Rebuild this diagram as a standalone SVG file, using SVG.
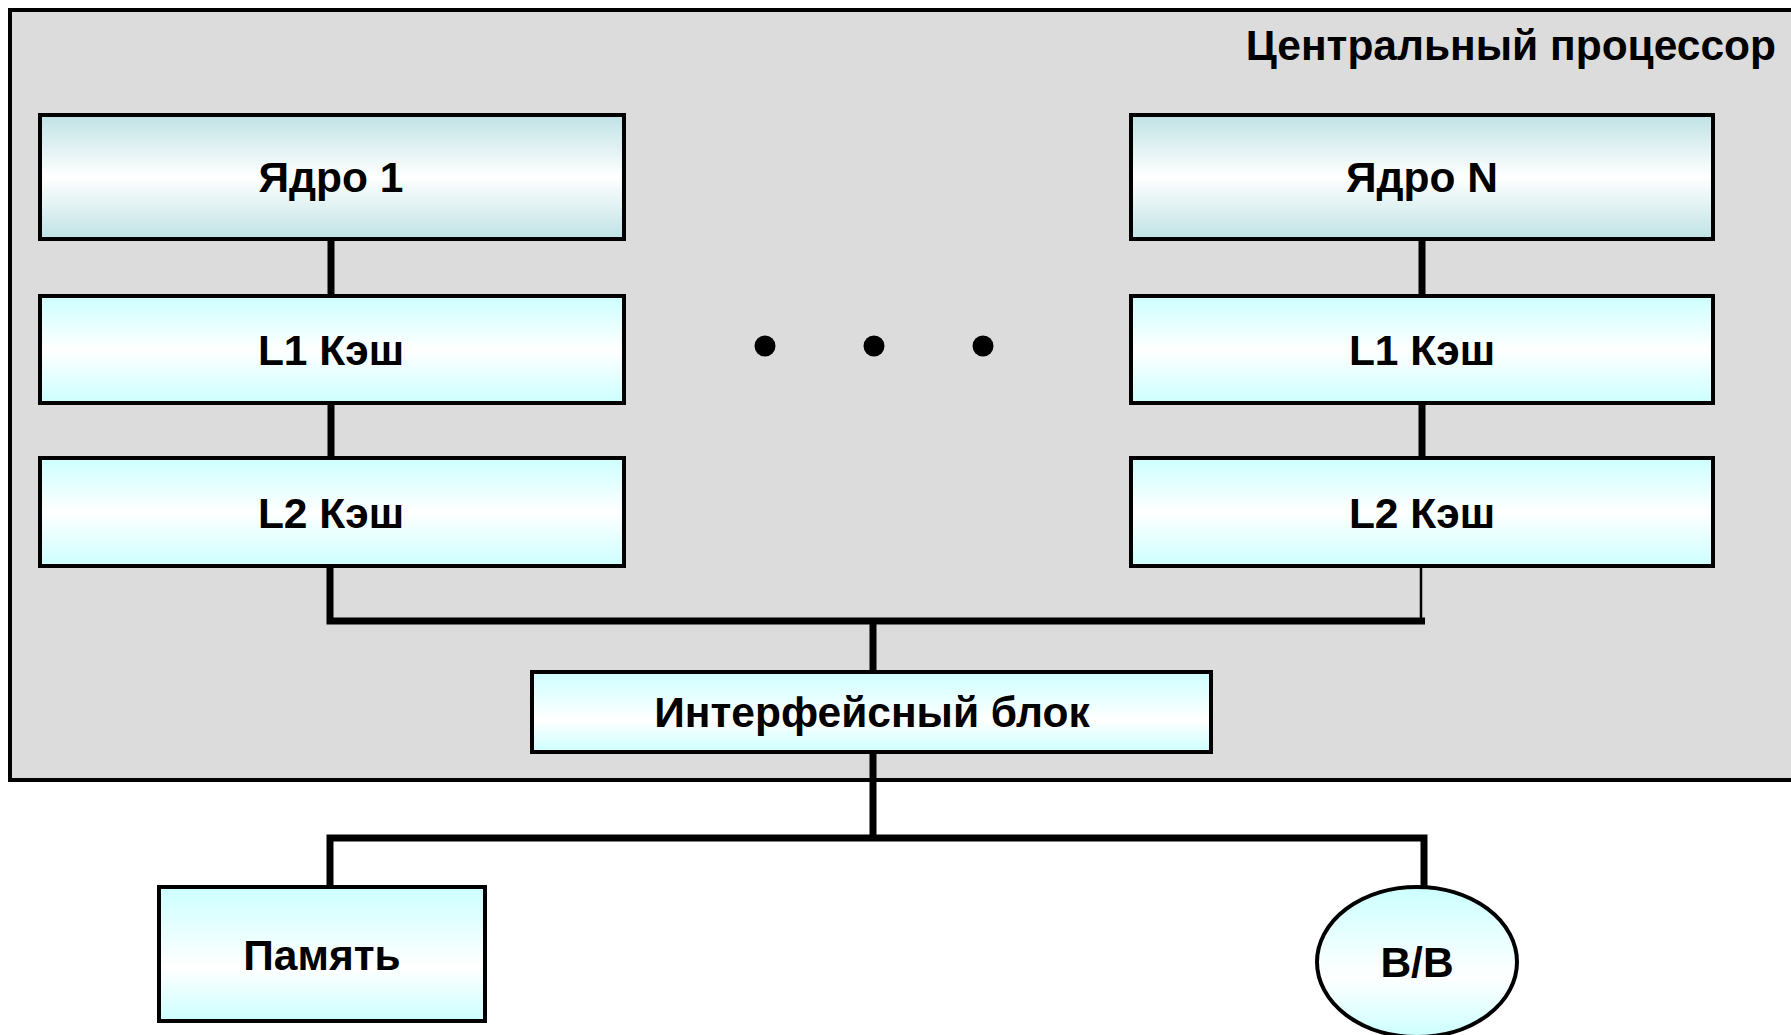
<svg xmlns="http://www.w3.org/2000/svg" width="1791" height="1035" viewBox="0 0 1791 1035">
  <defs>
    <linearGradient id="gCore" x1="0" y1="0" x2="0" y2="1">
      <stop offset="0" stop-color="#bfe2e5"/>
      <stop offset="0.5" stop-color="#ffffff"/>
      <stop offset="1" stop-color="#bfe2e5"/>
    </linearGradient>
    <linearGradient id="gCache" x1="0" y1="0" x2="0" y2="1">
      <stop offset="0" stop-color="#ccffff"/>
      <stop offset="0.5" stop-color="#ffffff"/>
      <stop offset="1" stop-color="#ccffff"/>
    </linearGradient>
    <linearGradient id="gTop" x1="0" y1="0" x2="0" y2="1">
      <stop offset="0" stop-color="#ccffff"/>
      <stop offset="0.6" stop-color="#ffffff"/>
      <stop offset="1" stop-color="#ccffff"/>
    </linearGradient>
    <style>
      .box { stroke: #000; stroke-width: 4; }
      .core { fill: url(#gCore); }
      .cache { fill: url(#gCache); }
      .lbl { font-family: "Liberation Sans", Arial, sans-serif; font-weight: bold; font-size: 42.5px; fill: #000; text-anchor: middle; }
      .wire { stroke: #000; stroke-width: 7; fill: none; stroke-linecap: butt; }
      .thin { stroke: #000; stroke-width: 2.5; fill: none; }
    </style>
  </defs>
  <rect width="1791" height="1035" fill="#ffffff"/>

  <g id="cpu">
    <rect x="10" y="10" width="1800" height="770" fill="#dcdcdc" stroke="#000" stroke-width="4"/>
    <text x="1776" y="60" class="lbl" style="text-anchor:end">Центральный процессор</text>
  </g>

  <g id="connectors">
    <line class="wire" x1="331" y1="239" x2="331" y2="296"/>
    <line class="wire" x1="331" y1="403" x2="331" y2="458"/>
    <polyline class="wire" points="330,566 330,621 1425,621"/>
    <line class="wire" x1="1422" y1="239" x2="1422" y2="294"/>
    <line class="wire" x1="1422" y1="403" x2="1422" y2="456"/>
    <line class="thin" x1="1421" y1="566" x2="1421" y2="620"/>
    <line class="wire" x1="873" y1="621" x2="873" y2="672"/>
    <line class="wire" x1="873" y1="752" x2="873" y2="838"/>
    <polyline class="wire" points="330,887 330,838 1424,838 1424,887"/>
  </g>

  <g id="core1">
    <rect class="box core" x="40" y="115" width="584" height="124"/>
    <text class="lbl" x="331" y="192">Ядро 1</text>
  </g>
  <g id="l1-1">
    <rect class="box cache" x="40" y="296" width="584" height="107"/>
    <text class="lbl" x="331" y="365">L1 Кэш</text>
  </g>
  <g id="l2-1">
    <rect class="box cache" x="40" y="458" width="584" height="108"/>
    <text class="lbl" x="331" y="528">L2 Кэш</text>
  </g>

  <g id="coreN">
    <rect class="box core" x="1131" y="115" width="582" height="124"/>
    <text class="lbl" x="1422" y="192">Ядро N</text>
  </g>
  <g id="l1-N">
    <rect class="box cache" x="1131" y="296" width="582" height="107"/>
    <text class="lbl" x="1422" y="365">L1 Кэш</text>
  </g>
  <g id="l2-N">
    <rect class="box cache" x="1131" y="458" width="582" height="108"/>
    <text class="lbl" x="1422" y="528">L2 Кэш</text>
  </g>

  <g id="dots">
    <circle cx="765" cy="346" r="10.5" fill="#000"/>
    <circle cx="874" cy="346" r="10.5" fill="#000"/>
    <circle cx="983" cy="346" r="10.5" fill="#000"/>
  </g>

  <g id="iface">
    <rect class="box" fill="url(#gTop)" x="532" y="672" width="679" height="80"/>
    <text class="lbl" x="872" y="727">Интерфейсный блок</text>
  </g>

  <g id="memory">
    <rect class="box" fill="url(#gTop)" x="159" y="887" width="326" height="134"/>
    <text class="lbl" x="322" y="970">Память</text>
  </g>

  <g id="io">
    <ellipse class="box" fill="url(#gTop)" cx="1417" cy="962" rx="100" ry="75"/>
    <text class="lbl" x="1417" y="977">В/В</text>
  </g>
</svg>
